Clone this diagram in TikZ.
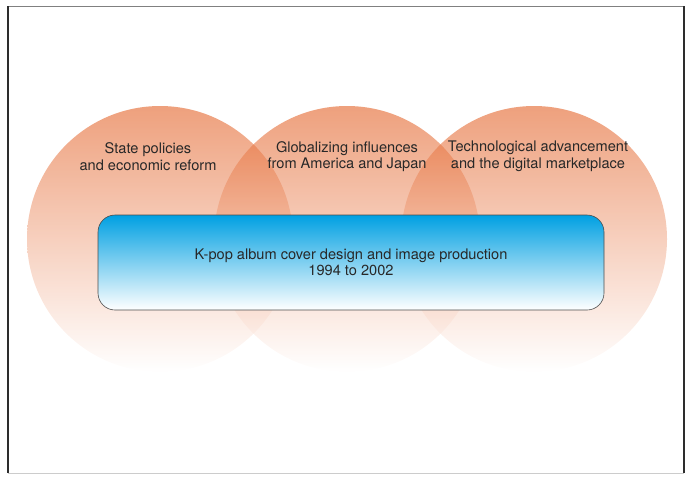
\documentclass[tikz,border=0pt]{standalone}
\usepackage{fontspec}
\setmainfont{TeX Gyre Heros}
\usepackage{tikz}
\usetikzlibrary{positioning}
\definecolor{vennorange}{RGB}{227,97,38}
\definecolor{kpopblue}{RGB}{0,160,226}
\definecolor{labelgray}{RGB}{40,40,40}
\definecolor{framedark}{RGB}{45,45,45}
\begin{document}
\begin{tikzpicture}[x=1pt,y=-1pt,
    venn/.style={circle,minimum size=266pt,inner sep=0pt,draw=none,
        top color=vennorange,bottom color=white,fill opacity=0.6},
    venntext/.style={align=center,text=labelgray,font=\fontsize{14.6}{16.5}\selectfont},
    kpopbox/.style={rectangle,rounded corners=17pt,minimum width=506pt,minimum height=95pt,
        draw=gray!60!black,line width=0.6pt,top color=kpopblue,bottom color=white,
        align=center,text=labelgray,font=\fontsize{14.6}{16.5}\selectfont}]
    \useasboundingbox (0,0) rectangle (693,480);
    % frame
    \coordinate (nw) at (8,6);
    \coordinate (ne) at (684,6);
    \coordinate (sw) at (8,473);
    \coordinate (se) at (684,473);
    \draw[gray,line width=0.8pt] (nw) -- (ne);
    \draw[gray!40,line width=0.8pt] (sw) -- (se);
    \draw[framedark,line width=1.3pt] (nw) -- (sw);
    \draw[framedark,line width=2pt] (ne) -- (se);
    % the three circles
    \node[venn] (state) at (160,239) {};
    \node[venn] (global) at (347,239) {};
    \node[venn] (tech) at (534,239) {};
    \node[venntext] (statetext) at (148,156.5) {State policies\\and economic reform};
    \node[venntext] (globaltext) at (347,156.5) {Globalizing influences\\from America and Japan};
    \node[venntext] (techtext) at (538,156.5) {Technological advancement\\and the digital marketplace};
    % the box
    \node[kpopbox] (kpop) at (351,262.5) {K-pop album cover design and image production\\1994 to 2002};
\end{tikzpicture}
\end{document}
